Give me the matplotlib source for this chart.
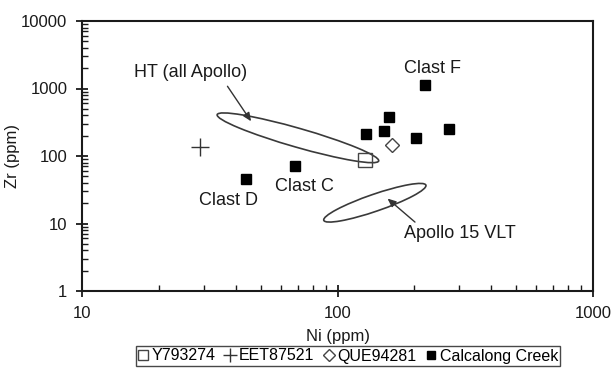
import matplotlib
matplotlib.use("Agg")
import matplotlib.pyplot as plt
from matplotlib.patches import Ellipse
from matplotlib.transforms import ScaledTranslation
from matplotlib.ticker import LogLocator, FixedLocator, FixedFormatter, NullFormatter

plt.rcParams['font.family'] = ['Liberation Sans', 'DejaVu Sans']

# Ni (ppm), Zr (ppm)
y793274_ni = [128.6]
y793274_zr = [88.5]
eet87521_ni = [29.0]
eet87521_zr = [136.0]
que94281_ni = [163.0]
que94281_zr = [144.0]
calcalong_ni = [43.9, 68.4, 129.0, 152.0, 159.0, 202.0, 221.0, 273.0]
calcalong_zr = [46.0, 72.0, 212.0, 238.0, 378.0, 187.0, 1143.0, 249.0]

major_ticks = [1, 10, 100, 1000, 10000]
x_major = [10, 100, 1000]

fig = plt.figure(figsize=(6.16, 3.73), dpi=100)
ax = fig.add_axes([82/616, 1 - 291/373, (593 - 82)/616, (291 - 21)/373])
ax.set_xscale('log')
ax.set_yscale('log')
ax.set_xlim(10, 1000)
ax.set_ylim(1, 10000)

ax.plot(calcalong_ni, calcalong_zr, 's', ms=6.8, color='black', mec='black',
        label='Calcalong Creek', zorder=4)
ax.plot(y793274_ni, y793274_zr, 's', ms=9.5, mfc='none', mec='#444444', mew=1.0,
        label='Y793274', zorder=5)
ax.plot(eet87521_ni, eet87521_zr, '+', ms=12.5, color='#333333', mew=1.0,
        label='EET87521', zorder=5)
ax.plot(que94281_ni, que94281_zr, 'D', ms=7.5, mfc='none', mec='#444444', mew=1.0,
        label='QUE94281', zorder=5)

# Compositional fields (sizes in inches on the page)
fields = [
    # (center Ni, center Zr, length, width, angle)
    (70.0, 186.0, 1.68, 0.19, -16.0),
    (140.0, 20.3, 1.08, 0.17, 19.0),
]
for cx, cy, w, h, ang in fields:
    tr = fig.dpi_scale_trans + ScaledTranslation(cx, cy, ax.transData)
    ax.add_patch(Ellipse((0, 0), w, h, angle=ang, transform=tr, fill=False,
                         edgecolor='#3a3a3a', lw=1.2, zorder=3))

arrow_kw = dict(arrowstyle='-|>,head_length=0.5,head_width=0.22', color='#333333',
                lw=1.0, shrinkA=0, shrinkB=0)
ax.annotate('', xy=(45.9, 327), xytext=(37.1, 1079), arrowprops=arrow_kw)
ax.annotate('', xy=(157, 23.4), xytext=(201, 10.5), arrowprops=arrow_kw)

txt_kw = dict(fontsize=13, ha='center', va='center', color='#1a1a1a')
ax.text(26.7, 1698, 'HT (all Apollo)', **txt_kw)
ax.text(236, 1991, 'Clast F', **txt_kw)
ax.text(37.3, 22.1, 'Clast D', **txt_kw)
ax.text(74.3, 34.8, 'Clast C', **txt_kw)
ax.text(300, 7.2, 'Apollo 15 VLT', **txt_kw)

# Axes styling
for s in ax.spines.values():
    s.set_linewidth(1.5)
    s.set_color('#1a1a1a')

ax.xaxis.set_major_locator(FixedLocator(x_major))
ax.xaxis.set_major_formatter(FixedFormatter([str(v) for v in x_major]))
ax.yaxis.set_major_locator(FixedLocator(major_ticks))
ax.yaxis.set_major_formatter(FixedFormatter([str(v) for v in major_ticks]))
ax.xaxis.set_minor_locator(LogLocator(base=10, subs=range(2, 10)))
ax.yaxis.set_minor_locator(LogLocator(base=10, subs=range(2, 10)))
ax.xaxis.set_minor_formatter(NullFormatter())
ax.yaxis.set_minor_formatter(NullFormatter())
ax.tick_params(which='major', direction='inout', length=9, width=1.3,
               labelsize=12, colors='#1a1a1a', pad=6)
ax.tick_params(which='minor', direction='in', length=4, width=1.0, colors='#1a1a1a')
ax.tick_params(top=False, right=False)

ax.set_xlabel('Ni (ppm)', fontsize=12, color='#1a1a1a', labelpad=6)
ax.set_ylabel('Zr (ppm)', fontsize=12, color='#1a1a1a')
ax.yaxis.set_label_coords(-0.122, 0.5)

handles, labels = ax.get_legend_handles_labels()
order = [1, 2, 3, 0]
leg = ax.legend([handles[i] for i in order], [labels[i] for i in order],
                loc='center', bbox_to_anchor=(348/616, 1 - 356/373),
                bbox_transform=fig.transFigure, ncol=4, fontsize=11.5,
                frameon=True, fancybox=False, edgecolor='#1a1a1a',
                handlelength=0.6, handletextpad=0.25, columnspacing=0.6,
                borderpad=0.15, markerscale=0.75)
leg.get_frame().set_linewidth(1.0)

fig.savefig('out.png', dpi=100, facecolor='white')
